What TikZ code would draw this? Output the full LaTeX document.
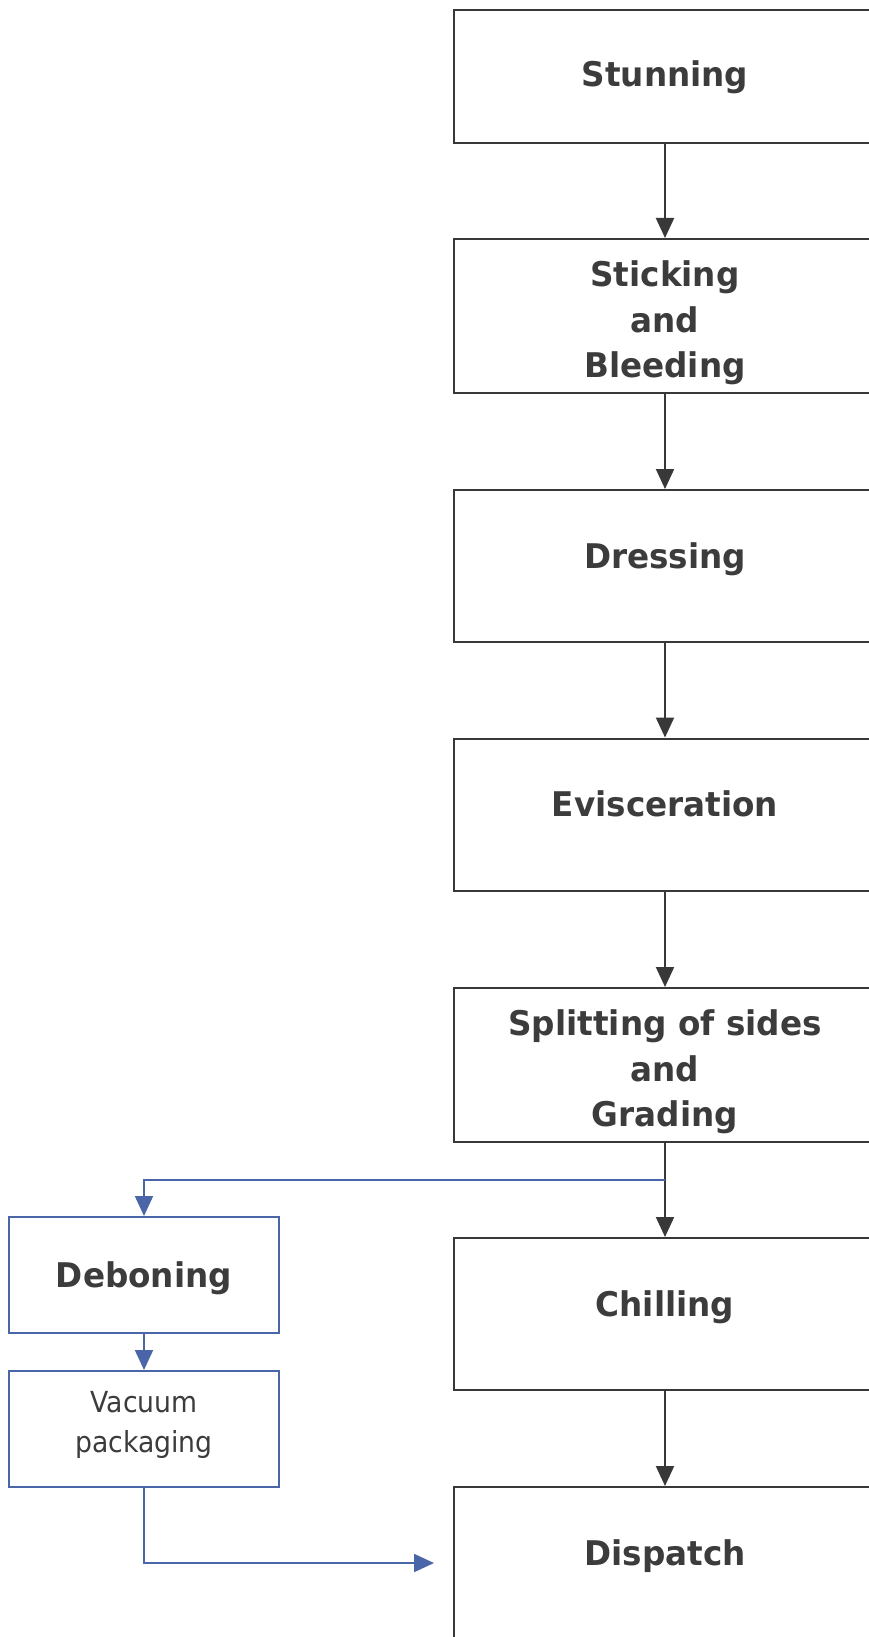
\documentclass[tikz,border=0pt]{standalone}
\usepackage{fontspec}
\setmainfont[FakeStretch=0.96]{DejaVu Sans}
\newfontfamily\narrowfont[FakeStretch=0.92]{DejaVu Sans}
\usetikzlibrary{arrows.meta}
\definecolor{boxgrey}{HTML}{383838}
\definecolor{txtgrey}{HTML}{3C3C3C}
\definecolor{flowblue}{HTML}{4A66A8}

\begin{document}
\begin{tikzpicture}[x=1pt, y=-1pt, >={Triangle[length=20pt,width=18pt]},
		stepbox/.style={draw=boxgrey, line width=2pt, minimum width=422pt, minimum height=152pt,
			align=center, text=txtgrey, font=\fontsize{34}{45.5}\selectfont\bfseries,
			text height=26pt, text depth=22pt},
		threeline/.style={minimum height=154pt, text height=131pt, text depth=8pt},
		sidebox/.style={draw=flowblue, line width=2pt, minimum width=270pt, minimum height=116pt,
			align=center, text=txtgrey},
		greyflow/.style={->, draw=boxgrey, line width=2pt},
		blueflow/.style={->, draw=flowblue, line width=2pt}]
		\useasboundingbox (0,0) rectangle (869,1637);
		\clip (0,0) rectangle (869,1637);
		\fill[white] (0,0) rectangle (869,1637);
		% main line
		\node[stepbox, minimum height=133pt, text height=30pt, text depth=10pt] (stun) at (665,76.5) {Stunning};
		\node[stepbox, threeline] (stick) at (665,316) {Sticking\\and\\Bleeding};
		\node[stepbox] (dress) at (665,566) {Dressing};
		\node[stepbox] (evis) at (665,814.5) {Evisceration};
		\node[stepbox, threeline] (split) at (665,1065) {Splitting of sides\\and\\Grading};
		\node[stepbox] (chill) at (665,1314) {Chilling};
		\node[stepbox] (disp) at (665,1563) {Dispatch};
		\draw[greyflow] (stun) -- (stick);
		\draw[greyflow] (stick) -- (dress);
		\draw[greyflow] (dress) -- (evis);
		\draw[greyflow] (evis) -- (split);
		\draw[greyflow] (split) -- (chill);
		\draw[greyflow] (chill) -- (disp);
		% side branch
		\node[sidebox, font=\fontsize{34}{45.5}\selectfont\bfseries, text height=30pt, text depth=6pt] (debone) at (144,1275) {Deboning};
		\node[sidebox, font=\narrowfont\fontsize{29}{40}\selectfont, text height=52pt, text depth=6pt] (vacuum) at (144,1429) {Vacuum\\packaging};
		\coordinate (branch) at ([yshift=-37pt]split.south);
		\draw[blueflow] (branch) -| (debone.north);
		\draw[blueflow] (debone) -- (vacuum);
		\draw[blueflow] (vacuum.south) |- ([xshift=-19pt]disp.west);
	\end{tikzpicture}
\end{document}
